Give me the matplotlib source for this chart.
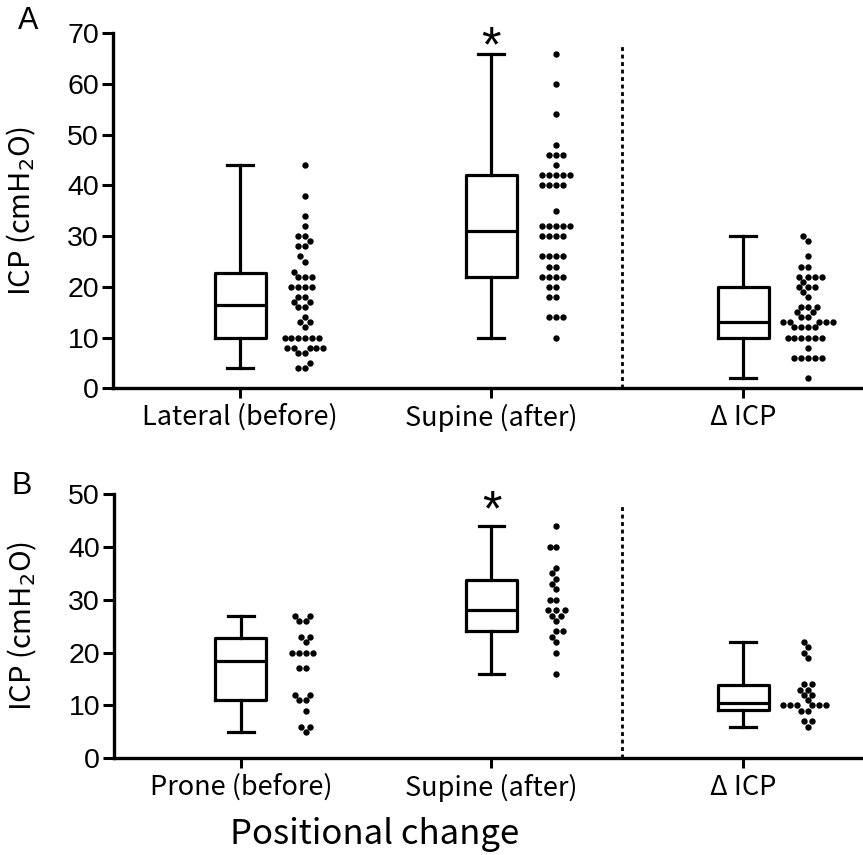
import matplotlib
matplotlib.use('Agg')
import matplotlib.pyplot as plt
import numpy as np

# ---- data ----
labels_a = ['Lateral (before)', 'Supine (after)', 'Δ ICP']
labels_b = ['Prone (before)', 'Supine (after)', 'Δ ICP']

lateral_a = [44, 38, 34, 32, 30, 30, 29, 28, 28, 26, 25, 23, 22, 22, 22,
             20, 20, 20, 20, 18, 18, 17, 17, 16, 16, 14, 13, 13, 12,
             10, 10, 10, 10, 10, 10, 8, 8, 8, 8, 8, 7, 7, 5, 4, 4]
supine_a = [66, 60, 54, 48, 46, 46, 46, 44, 42, 42, 42, 42, 42, 40, 40, 40, 40,
            35, 32, 32, 32, 32, 32, 30, 30, 30, 30, 26, 26, 26, 26, 24, 24,
            22, 22, 22, 22, 20, 20, 18, 18, 14, 14, 14, 10]
delta_a = [30, 29, 26, 24, 24, 22, 22, 22, 22, 21, 20, 20, 20, 19, 18,
           16, 16, 16, 15, 15, 14, 14, 13, 13, 13, 13, 13, 12, 12, 12, 12,
           10, 10, 10, 10, 10, 10, 8, 6, 6, 6, 6, 6, 2]

prone_b = [27, 27, 26, 26, 23, 23, 22, 20, 20, 20, 20, 17, 17, 12, 12, 11, 11,
           9, 6, 6, 5]
supine_b = [44, 40, 40, 36, 35, 34, 33, 32, 30, 30, 28, 28, 28, 27, 27, 26,
            24, 24, 23, 22, 20, 16]
delta_b = [22, 21, 20, 19, 14, 14, 13, 13, 12, 12, 11, 10, 10, 10, 10, 10, 10,
           9, 9, 7, 7, 6]

# box statistics (min, Q1, median, Q3, max) as drawn
lo_a = [4, 10, 2]
q1_a = [10, 22, 10]
med_a = [16.5, 31, 13]
q3_a = [22.8, 42, 20]
hi_a = [44, 66, 30]

lo_b = [5, 16, 6]
q1_b = [11, 24, 9.2]
med_b = [18.5, 28, 10.5]
q3_b = [22.7, 33.7, 13.9]
hi_b = [27, 44, 22]

# ---- layout ----
W, H = 863, 855
box_pos = [1.27, 3.78, 6.30]
dot_off = 0.65
sep_x = 5.09

plt.rcParams['font.family'] = ['Noto Sans CJK JP', 'DejaVu Sans']
LW = 2.3


def swarm_x(ax, values, xc, diam=6.8):
    vals = np.asarray(values, dtype=float)
    pts = ax.transData.transform(np.column_stack([np.full(len(vals), xc), vals]))
    x0 = pts[0, 0]
    ys = pts[:, 1]
    placed = []
    xs = np.zeros(len(vals))
    for i in np.argsort(vals, kind='stable'):
        y = ys[i]
        near = [(px, py) for px, py in placed if abs(py - y) < diam]
        cands = [0.0]
        for px, py in near:
            dx = np.sqrt(diam ** 2 - (py - y) ** 2)
            cands += [px - dx, px + dx]
        cands.sort(key=lambda c: (abs(c), c))
        for c in cands:
            if all((c - px) ** 2 + (y - py) ** 2 >= diam ** 2 - 1e-6 for px, py in near):
                break
        placed.append((c, y))
        xs[i] = c
    return ax.transData.inverted().transform(np.column_stack([x0 + xs, ys]))[:, 0]


def draw_panel(ax, labels, dots, lo, q1, med, q3, hi, ymax, star_y, sep_top):
    ax.set_xlim(0, 7.5)
    ax.set_ylim(0, ymax)
    stats = []
    for i in range(3):
        stats.append(dict(whislo=lo[i], q1=q1[i], med=med[i], q3=q3[i], whishi=hi[i]))
    lp = dict(color='black', linewidth=LW)
    ax.bxp(stats, positions=box_pos, widths=0.51, showfliers=False,
           boxprops=lp, whiskerprops=lp, capprops=lp,
           medianprops=dict(color='black', linewidth=LW), manage_ticks=False)
    for i, vals in enumerate(dots):
        xs = swarm_x(ax, vals, box_pos[i] + dot_off)
        ax.plot(xs, vals, 'o', color='black', ms=4.6, mew=0, clip_on=False)
    ax.plot([sep_x, sep_x], [0, sep_top], color='black', lw=2.0,
            linestyle=(0, (1.4, 1.3)))
    ax.text(box_pos[1], star_y, '*', ha='center', va='center', fontsize=36,
            family='Liberation Sans', clip_on=False)

    for s in ['top', 'right']:
        ax.spines[s].set_visible(False)
    for s in ['left', 'bottom']:
        ax.spines[s].set_linewidth(2.4)
    ax.set_xticks(box_pos)
    ax.set_xticklabels(labels, fontsize=19.5)
    ax.tick_params(axis='x', length=7, width=2.2, pad=4)
    ax.tick_params(axis='y', length=8, width=2.2, pad=2, labelsize=20.5)
    for t in ax.get_yticklabels():
        t.set_family('Liberation Sans')
    ax.set_ylabel('ICP (cmH$_2$O)', fontsize=21)
    ax.yaxis.set_label_coords(-0.1, 0.5)


fig = plt.figure(figsize=(W / 100, H / 100), dpi=100)

ax_a = fig.add_axes([113 / W, 1 - 388.3 / H, 750 / W, 355 / H])
ax_a.set_yticks(np.arange(0, 71, 10))
draw_panel(ax_a, labels_a, [lateral_a, supine_a, delta_a],
           lo_a, q1_a, med_a, q3_a, hi_a, 70, 67.0, 68)

ax_b = fig.add_axes([114 / W, 1 - 758.3 / H, 749 / W, 264.3 / H])
ax_b.set_yticks(np.arange(0, 51, 10))
draw_panel(ax_b, labels_b, [prone_b, supine_b, delta_b],
           lo_b, q1_b, med_b, q3_b, hi_b, 50, 46.5, 48.3)

fig.text(28 / W, 1 - 21 / H, 'A', fontsize=22, family='Liberation Sans',
         ha='center', va='center')
fig.text(22 / W, 1 - 486 / H, 'B', fontsize=22, family='Liberation Sans',
         ha='center', va='center')
fig.text(375 / W, 1 - 834 / H, 'Positional change', fontsize=25,
         ha='center', va='center')

fig.savefig('out.png', dpi=100)
